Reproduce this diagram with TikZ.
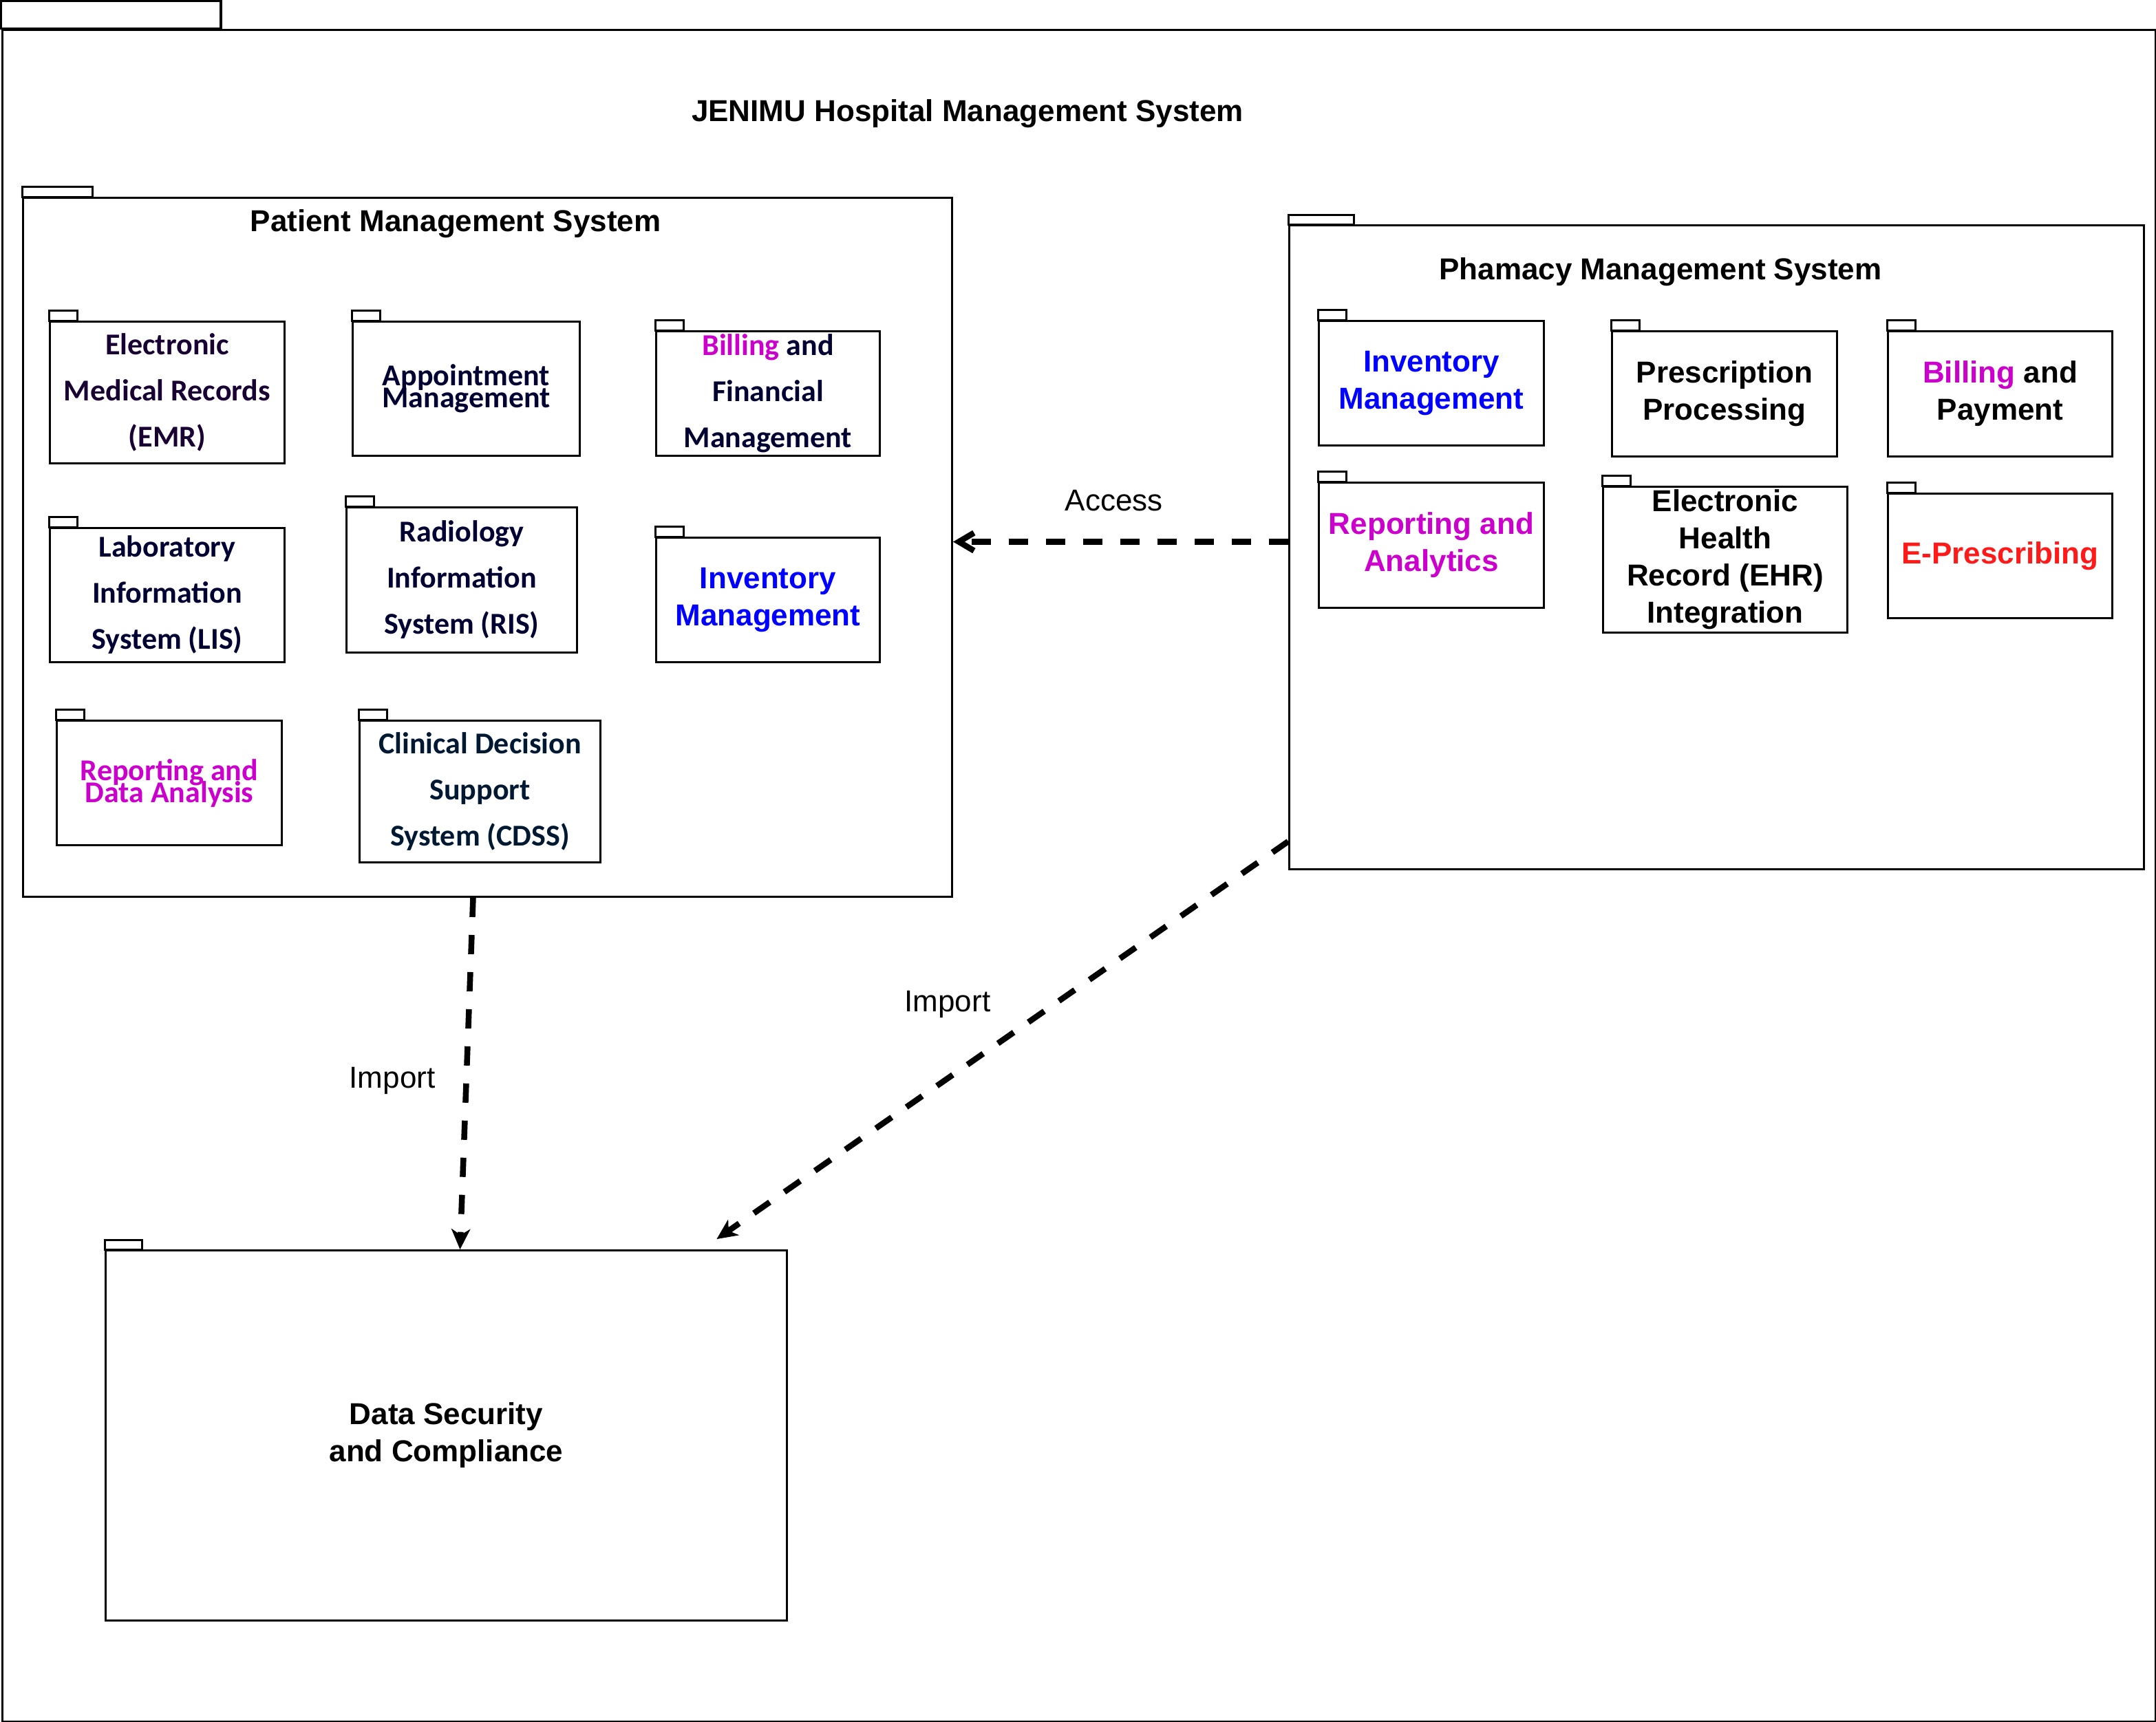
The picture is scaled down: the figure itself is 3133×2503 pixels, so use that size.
\documentclass[tikz,border=0pt]{standalone}
\usepackage{fontspec}
\setmainfont{Liberation Sans}
\newfontfamily\calfont{Carlito}
\usepackage{tikz}
\usetikzlibrary{arrows.meta}
\usetikzlibrary{positioning}

\definecolor{navyink}{HTML}{000033}
\definecolor{plumink}{HTML}{190033}
\definecolor{deepink}{HTML}{001933}
\definecolor{billmag}{HTML}{CC00CC}
\definecolor{invblue}{HTML}{0000FF}
\definecolor{rxred}{HTML}{FF1A1A}

% tab on top of a package: node, width, height
\newcommand{\pkgtab}[3]{\draw[tab] (#1.north west) rectangle ++(#2,-#3);}

\tikzset{
  pkg/.style={draw, line width=3pt, anchor=north west, inner sep=0pt, align=center},
  tab/.style={draw, line width=3pt},
  word/.style={pkg, font={\calfont\bfseries\fontsize{44}{67}\selectfont}, text=navyink},
  squeezed/.style={pkg, font={\calfont\bfseries\fontsize{44}{32}\selectfont\lineskiplimit=-100pt}},
  arial/.style={pkg, font={\bfseries\fontsize{44}{54}\selectfont}},
  title/.style={font={\bfseries\fontsize{44}{53}\selectfont}, anchor=base, inner sep=0pt},
  dep/.style={line width=8.5pt, dash pattern=on 28pt off 26pt},
  lbl/.style={font={\fontsize{44}{53}\selectfont}, inner sep=0pt},
}

\begin{document}
\begin{tikzpicture}[x=1pt, y=-1pt]
  \useasboundingbox (0,0) rectangle (3133,2503);

  % Outer frame
  \node[pkg, line width=3.3pt, minimum width=3129.6pt, minimum height=2459.8pt] (frame) at (1.7,41.5) {};
  \draw[tab, line width=3.3pt] (frame.north west) rectangle ++(319.3,-39.8);
  \node[title] (ttl) at (1406,176) {JENIMU Hospital Management System};

  % Patient Management System
  \node[pkg, minimum width=1350pt, minimum height=1016pt] (pms) at (32,286) {};
  \pkgtab{pms}{102}{15}
  \node[title] (pmsttl) at (662,336) {Patient Management System};

  \node[word, text=plumink, minimum width=341pt, minimum height=206pt] (emr) at (71,466) {Electronic\\Medical Records\\(EMR)};
  \node[squeezed, text=navyink, minimum width=330pt, minimum height=195pt] (appt) at (511,466) {Appointment\\Management};
  \node[word, minimum width=325pt, minimum height=181pt] (billf) at (952,480) {{\color{billmag}Billing} and\\Financial\\Management};
  \node[word, minimum width=341pt, minimum height=195pt] (lis) at (71,766) {Laboratory\\Information\\System (LIS)};
  \node[word, minimum width=335pt, minimum height=211pt] (ris) at (502,736) {Radiology\\Information\\System (RIS)};
  \node[arial, text=invblue, minimum width=325pt, minimum height=181pt] (invl) at (952,780) {Inventory\\Management};
  \node[squeezed, text=billmag, minimum width=327pt, minimum height=181pt] (rep) at (81,1046) {Reporting and\\Data Analysis};
  \node[word, text=deepink, minimum width=350pt, minimum height=206pt] (cdss) at (521,1046) {Clinical Decision\\Support\\System (CDSS)};
  \foreach \p in {emr,appt,billf,lis,ris,invl,rep,cdss} {\pkgtab{\p}{41}{15}}

  % Phamacy Management System
  \node[pkg, minimum width=1242pt, minimum height=936pt] (pharm) at (1872,326) {};
  \pkgtab{pharm}{95}{14}
  \node[title] (phttl) at (2413,406) {Phamacy Management System};

  \node[arial, text=invblue, minimum width=327pt, minimum height=181pt] (inv) at (1915,465) {Inventory\\Management};
  \node[arial, minimum width=327pt, minimum height=182pt] (presc) at (2341,480) {Prescription\\Processing};
  \node[arial, minimum width=326pt, minimum height=182pt] (billp) at (2742,480) {{\color{billmag}Billing} and\\Payment};
  \node[arial, text=billmag, minimum width=327pt, minimum height=182pt] (repa) at (1915,700) {Reporting and\\Analytics};
  \node[arial, minimum width=355pt, minimum height=212pt] (ehr) at (2328,706) {Electronic\\Health\\Record (EHR)\\Integration};
  \node[arial, text=rxred, minimum width=326pt, minimum height=181pt] (erx) at (2742,716) {E-Prescribing};
  \foreach \p in {inv,presc,billp,repa,ehr,erx} {\pkgtab{\p}{41}{15}}

  % Data Security and Compliance
  \node[arial, minimum width=990pt, minimum height=538pt] (dsec) at (152,1816) {Data Security\\and Compliance};
  \pkgtab{dsec}{54}{14}

  % Dependencies
  \draw[dep, -{Straight Barb[length=22pt,width=26pt]}] ([yshift=8pt]pharm.west) -- node[lbl, pos=0.52, above=40pt] {Access} ([yshift=8pt]pms.east);
  \draw[dep, -{Stealth[length=30pt,width=28pt,inset=9pt,line width=1pt]}] ([xshift=-21pt]pms.south) -- node[lbl, pos=0.52, left=41pt] {Import} ([xshift=20pt]dsec.north);
  \draw[dep, -{Stealth[length=30pt,width=28pt,inset=9pt,line width=1pt]}] ([yshift=42pt]pharm.south west) -- node[lbl, pos=0.41, left=88pt] {Import} ([xshift=393pt,yshift=15pt]dsec.north);
\end{tikzpicture}
\end{document}
